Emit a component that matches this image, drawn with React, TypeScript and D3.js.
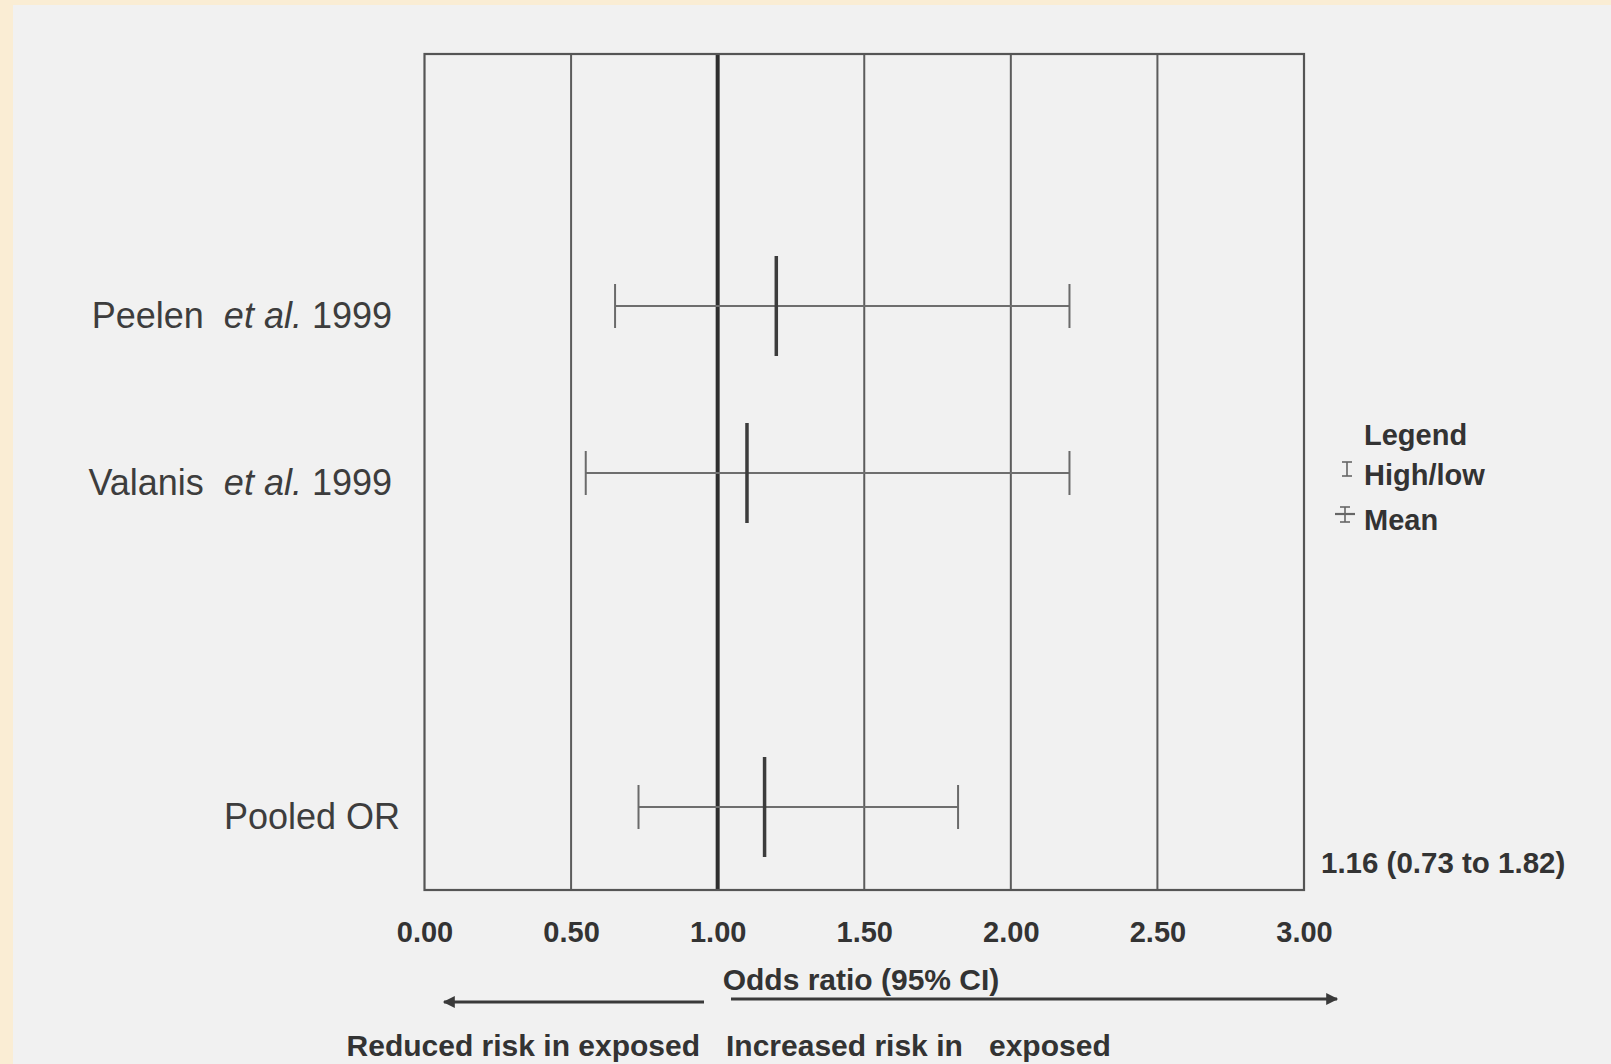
import React, { useRef, useEffect } from 'react';
import * as d3 from 'd3';

// rows (the empty slot leaves the gap above the pooled estimate)
const rows = ['Peelen', 'Valanis', 'gap', 'Pooled'];
const studyKeys = ['Peelen', 'Valanis', 'Pooled'];
const labelStart = ['Peelen  ', 'Valanis  ', 'Pooled OR'];
const labelItalic = ['et al.', 'et al.', ''];
const labelEnd = [' 1999', ' 1999', ''];
const meanOR = [1.2, 1.1, 1.16];
const lowCI = [0.65, 0.55, 0.73];
const highCI = [2.2, 2.2, 1.82];
const xTicks = [0, 0.5, 1, 1.5, 2, 2.5, 3];
const pooledText = '1.16 (0.73 to 1.82)';
const legendItems = ['High/low', 'Mean'];

const W = 1611;
const H = 1064;
const FONT = '"Liberation Sans", Arial, Helvetica, sans-serif';
const BOLD = 29.5;

const App = () => {
  const ref = useRef<SVGSVGElement | null>(null);

  useEffect(() => {
    if (!ref.current) return;
    const svg = d3.select(ref.current);
    svg.selectAll('*').remove();

    // paper + beige scan border
    svg.append('rect').attr('width', W).attr('height', H).attr('fill', '#faedd4');
    svg.append('rect').attr('x', 13).attr('y', 5).attr('width', W - 13).attr('height', H - 5).attr('fill', '#f1f1f1');

    const frame = { left: 424.5, right: 1304, top: 54, bottom: 890 };
    const x = d3.scaleLinear().domain([0, 3]).range([frame.left, frame.right]);
    const y = d3.scalePoint().domain(rows).range([306, 807]);

    // vertical grid lines
    svg.append('g')
      .selectAll('line')
      .data(xTicks.filter(d => d > 0 && d < 3))
      .enter()
      .append('line')
      .attr('x1', d => x(d)).attr('x2', d => x(d))
      .attr('y1', frame.top).attr('y2', frame.bottom)
      .attr('stroke', d => (d === 1 ? '#2e2e2e' : '#5c5c5c'))
      .attr('stroke-width', d => (d === 1 ? 4 : 2));

    // frame
    svg.append('rect')
      .attr('x', frame.left).attr('y', frame.top)
      .attr('width', frame.right - frame.left).attr('height', frame.bottom - frame.top)
      .attr('fill', 'none').attr('stroke', '#555').attr('stroke-width', 2.2);

    // x axis tick labels
    const axis = svg.append('g')
      .attr('transform', `translate(0,${frame.bottom})`)
      .call(d3.axisBottom(x).tickValues(xTicks).tickFormat(d3.format('.2f')).tickSize(0).tickPadding(0));
    axis.select('.domain').remove();
    axis.selectAll('text')
      .attr('y', 52)
      .attr('dy', null)
      .attr('font-family', FONT)
      .attr('font-size', 29)
      .attr('font-weight', 'bold')
      .attr('fill', '#333');

    // CI whiskers, caps and means
    const g = svg.append('g');
    studyKeys.forEach((k, i) => {
      const cy = y(k) as number;
      g.append('line')
        .attr('x1', x(lowCI[i])).attr('x2', x(highCI[i]))
        .attr('y1', cy).attr('y2', cy)
        .attr('stroke', '#6e6e6e').attr('stroke-width', 1.8);
      [lowCI[i], highCI[i]].forEach(v => {
        g.append('line')
          .attr('x1', x(v)).attr('x2', x(v))
          .attr('y1', cy - 22).attr('y2', cy + 22)
          .attr('stroke', '#6a6a6a').attr('stroke-width', 2);
      });
      g.append('line')
        .attr('x1', x(meanOR[i])).attr('x2', x(meanOR[i]))
        .attr('y1', cy - 50).attr('y2', cy + 50)
        .attr('stroke', '#3c3c3c').attr('stroke-width', 3.5);

      // row labels
      const t = svg.append('text')
        .attr('x', k === 'Pooled' ? 400 : 392)
        .attr('y', cy + 22)
        .attr('text-anchor', 'end')
        .attr('font-family', FONT)
        .attr('font-size', 36)
        .attr('fill', '#3d3d3d')
        .style('white-space', 'pre');
      t.append('tspan').text(labelStart[i]);
      if (labelItalic[i]) t.append('tspan').attr('font-style', 'italic').text(labelItalic[i]);
      if (labelEnd[i]) t.append('tspan').text(labelEnd[i]);
    });

    // pooled estimate text
    svg.append('text')
      .attr('x', 1321).attr('y', 873)
      .attr('font-family', FONT).attr('font-size', BOLD).attr('font-weight', 'bold')
      .attr('fill', '#333')
      .text(pooledText);

    // legend
    const lg = svg.append('g').attr('font-family', FONT).attr('font-weight', 'bold').attr('font-size', 29).attr('fill', '#333');
    lg.append('text').attr('x', 1364).attr('y', 445).text('Legend');
    legendItems.forEach((d, i) => {
      lg.append('text').attr('x', 1364).attr('y', 485 + i * 45).text(d);
    });
    const icon = svg.append('g').attr('stroke', '#666').attr('stroke-width', 1.6);
    // high/low icon
    icon.append('line').attr('x1', 1347).attr('x2', 1347).attr('y1', 462).attr('y2', 476);
    icon.append('line').attr('x1', 1342).attr('x2', 1352).attr('y1', 462).attr('y2', 462);
    icon.append('line').attr('x1', 1342).attr('x2', 1352).attr('y1', 476).attr('y2', 476);
    // mean icon
    icon.append('line').attr('x1', 1345).attr('x2', 1345).attr('y1', 507).attr('y2', 522);
    icon.append('line').attr('x1', 1340).attr('x2', 1350).attr('y1', 507).attr('y2', 507);
    icon.append('line').attr('x1', 1340).attr('x2', 1350).attr('y1', 522).attr('y2', 522);
    icon.append('line').attr('x1', 1335).attr('x2', 1355).attr('y1', 514).attr('y2', 514).attr('stroke-width', 2.2);

    // axis title
    svg.append('text')
      .attr('x', 861).attr('y', 990)
      .attr('text-anchor', 'middle')
      .attr('font-family', FONT).attr('font-size', 30).attr('font-weight', 'bold')
      .attr('fill', '#333')
      .text('Odds ratio (95% CI)');

    // direction arrows
    const defs = svg.append('defs');
    defs.append('marker')
      .attr('id', 'arr')
      .attr('viewBox', '0 0 10 10')
      .attr('refX', 9).attr('refY', 5)
      .attr('markerWidth', 5).attr('markerHeight', 4)
      .attr('orient', 'auto')
      .append('path').attr('d', 'M0,0 L10,5 L0,10 z').attr('fill', '#3a3a3a');
    svg.append('line')
      .attr('x1', 704).attr('x2', 444).attr('y1', 1002).attr('y2', 1002)
      .attr('stroke', '#3a3a3a').attr('stroke-width', 3).attr('marker-end', 'url(#arr)');
    svg.append('line')
      .attr('x1', 731).attr('x2', 1337).attr('y1', 999).attr('y2', 999)
      .attr('stroke', '#3a3a3a').attr('stroke-width', 3).attr('marker-end', 'url(#arr)');

    // direction labels
    const bottomText = (tx: number, anchor: string, s: string) =>
      svg.append('text')
        .attr('x', tx).attr('y', 1056).attr('text-anchor', anchor)
        .attr('font-family', FONT).attr('font-size', 30).attr('font-weight', 'bold').attr('fill', '#333')
        .text(s);
    bottomText(700, 'end', 'Reduced risk in exposed');
    bottomText(726, 'start', 'Increased risk in');
    bottomText(989, 'start', 'exposed');
  }, []);

  return (
    <div style={{ position: 'fixed', left: 0, top: 0, width: W, height: H }}>
      <svg ref={ref} width={W} height={H} style={{ display: 'block' }} />
    </div>
  );
};

export default App;
